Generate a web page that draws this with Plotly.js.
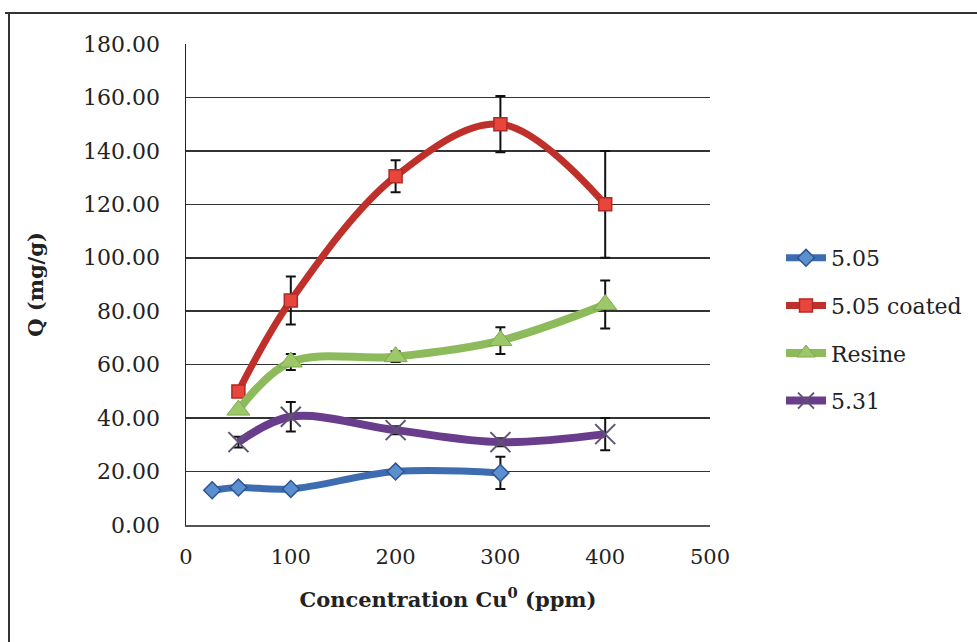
<!DOCTYPE html>
<html>
<head>
<meta charset="utf-8">
<script src="https://cdn.plot.ly/plotly-3.0.1.min.js"></script>
<style>html,body{margin:0;padding:0;background:#fff;}#chart{width:977px;height:642px;}</style>
</head>
<body>
<div id="chart"></div>
<script>
// Data
const seriesNames = ["5.05", "5.05 coated", "Resine", "5.31"];
const xBlue = [25, 50, 100, 200, 300];
const yBlue = [13, 14, 13.5, 20, 19.5];
const eBlue = [0, 0, 0, 0, 6];

const xRed = [50, 100, 200, 300, 400];
const yRed = [50, 84, 130.5, 150, 120];
const eRed = [0, 9, 6, 10.5, 20];

const xGreen = [50, 100, 200, 300, 400];
const yGreen = [43, 61, 63, 69, 82.5];
const eGreen = [0, 3, 2, 5, 9];

const xPurple = [50, 100, 200, 300, 400];
const yPurple = [31, 40.5, 35.5, 31, 34];
const ePurple = [2, 5.5, 1.5, 1.5, 6];

const yTickVals = [0, 20, 40, 60, 80, 100, 120, 140, 160, 180];
const yTickText = ["0.00","20.00","40.00","60.00","80.00","100.00","120.00","140.00","160.00","180.00"];
const xTickVals = [0, 100, 200, 300, 400, 500];

const font = "DejaVu Serif, serif";

function err(arr) {
  return {type: 'data', array: arr, visible: true, color: '#111', thickness: 2, width: 5};
}

const traces = [
  {x: xBlue, y: yBlue, name: seriesNames[0], mode: 'lines+markers', legendgroup: 'a',
   line: {color: '#3D6CB0', width: 7, shape: 'spline', smoothing: 1},
   marker: {symbol: 'diamond', size: 13, color: '#5B8FD0', line: {color: '#2E5590', width: 1.5}},
   error_y: err(eBlue)},
  {x: xRed, y: yRed, name: seriesNames[1], mode: 'lines+markers', legendgroup: 'b',
   line: {color: '#C0302B', width: 7, shape: 'spline', smoothing: 1},
   marker: {symbol: 'square', size: 13, color: '#E8453C', line: {color: '#B02A25', width: 1.5}},
   error_y: err(eRed)},
  {x: xGreen, y: yGreen, name: seriesNames[2], mode: 'lines+markers', legendgroup: 'c',
   line: {color: '#8DBA5A', width: 8, shape: 'spline', smoothing: 1},
   marker: {symbol: 'triangle-up', size: 20, color: '#9CC86A', line: {color: '#7FA84E', width: 1}},
   error_y: err(eGreen)},
  {x: xPurple, y: yPurple, name: seriesNames[3], mode: 'lines+markers', legendgroup: 'd',
   line: {color: '#6A3D8C', width: 8, shape: 'spline', smoothing: 1},
   marker: {symbol: 'x-thin-open', size: 20, color: '#5E5470', line: {color: '#5E5470', width: 2}},
   error_y: err(ePurple)}
];

const L = 186, R = 710, T = 44, B = 525;
const W = R - L, H = B - T;
function px(p){ return (p - L) / W; }
function py(p){ return (B - p) / H; }

const layout = {
  width: 977, height: 642,
  margin: {l: L, r: 977 - R, t: T, b: 642 - B},
  paper_bgcolor: '#fff', plot_bgcolor: '#fff',
  showlegend: true,
  xaxis: {
    range: [0, 500], tickvals: xTickVals, ticks: '', showgrid: false, zeroline: false, automargin: false,
    showline: true, linecolor: '#555', linewidth: 1.5, ticklabelstandoff: 12,
    tickfont: {family: font, size: 21, color: '#222'},
    title: {text: 'Concentration Cu<sup>0</sup> (ppm)', font: {family: font, size: 21, color: '#222', weight: 'bold'}, standoff: 24}
  },
  yaxis: {
    range: [0, 180], tickvals: yTickVals, ticktext: yTickText, ticks: '', automargin: false,
    showgrid: true, gridcolor: '#333', gridwidth: 1.5, zeroline: false,
    showline: true, linecolor: '#222', linewidth: 1.5, ticklabelstandoff: 20,
    tickfont: {family: font, size: 22, color: '#222'},
    title: {text: 'Q (mg/g)', font: {family: font, size: 21, color: '#222', weight: 'bold'}, standoff: 34}
  },
  legend: {
    xref: 'container', yref: 'container',
    x: 781 / 977, y: 1 - 237 / 642, xanchor: 'left', yanchor: 'top',
    font: {family: font, size: 22, color: '#222'},
    tracegroupgap: 16, itemwidth: 40, bgcolor: 'rgba(0,0,0,0)'
  },
  shapes: [
    {type: 'line', xref: 'paper', yref: 'paper', x0: px(5), x1: px(977), y0: py(13), y1: py(13), line: {color: '#333', width: 2}},
    {type: 'line', xref: 'paper', yref: 'paper', x0: px(9), x1: px(9), y0: py(13), y1: py(642), line: {color: '#333', width: 2}}
  ]
};

Plotly.newPlot('chart', traces, layout, {displayModeBar: false, staticPlot: true});
</script>
</body>
</html>
